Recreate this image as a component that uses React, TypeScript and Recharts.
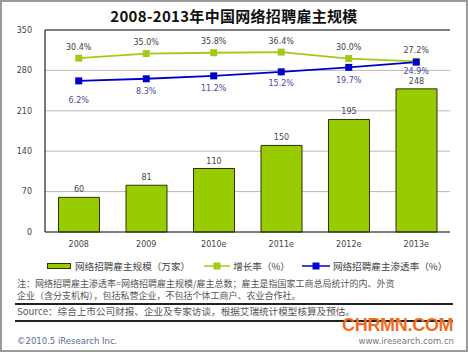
import React from 'react';
import { ComposedChart, Bar, Line, XAxis, YAxis, CartesianGrid, LabelList, ReferenceLine } from 'recharts';

const years = ['2008', '2009', '2010e', '2011e', '2012e', '2013e'];
const employers = [60, 81, 110, 150, 195, 248];
const growthRate = [30.4, 35.0, 35.8, 36.4, 30.0, 27.2];
const penetrationRate = [6.2, 8.3, 11.2, 15.2, 19.7, 24.9];
const leftTicks = [0, 70, 140, 210, 280, 350];

const title = '2008-2013年中国网络招聘雇主规模';
const legendNames = ['网络招聘雇主规模（万家）', '增长率（%）', '网络招聘雇主渗透率（%）'];
const noteLine1 = '注：网络招聘雇主渗透率=网络招聘雇主规模/雇主总数；雇主是指国家工商总局统计的内、外资';
const noteLine2 = '企业（含分支机构），包括私营企业，不包括个体工商户、农业合作社。';
const sourceText = 'Source：综合上市公司财报、企业及专家访谈，根据艾瑞统计模型核算及预估。';

const data = years.map((y, i) => ({
  year: y,
  employers: employers[i],
  growth: growthRate[i],
  penetration: penetrationRate[i],
}));

const FONT = "'DejaVu Sans', 'Noto Sans CJK SC', sans-serif";
const CJK = "'Noto Sans CJK SC', 'DejaVu Sans', sans-serif";
const BAR_GREEN = '#99CC00';
const LINE_GREEN = '#A2C918';
const BLUE = '#0000CC';
const penLabelDy = [20, 13, 13, 12, 13, 9];

const pct = (v: number) => `${v.toFixed(1)}%`;

const SquareDot = (color: string) => (props: any) => {
  const { cx, cy } = props;
  if (cx == null || cy == null) return null;
  return <rect x={cx - 3.5} y={cy - 3.5} width={7} height={7} fill={color} />;
};

const PenLabel = (props: any) => {
  const { x, y, value, index } = props;
  return (
    <text x={x} y={y + penLabelDy[index]} textAnchor="middle" dominantBaseline="central" fontSize={8} fontFamily={FONT} fill="#4a4aa8">
      {pct(value)}
    </text>
  );
};

const GrowthLabel = (props: any) => {
  const { x, y, value } = props;
  return (
    <text x={x} y={y - 11} textAnchor="middle" dominantBaseline="central" fontSize={8} fontFamily={FONT} fill="#444">
      {pct(value)}
    </text>
  );
};

export default function App() {
  return (
    <div style={{ position: 'absolute', left: 0, top: 0, width: 468, height: 352, boxSizing: 'border-box', border: '2px solid #9a9a9a', background: '#fff', overflow: 'hidden' }}>
      <div style={{ position: 'absolute', left: -2, top: 3, width: 468, textAlign: 'center', fontFamily: CJK, fontWeight: 700, fontSize: 15, color: '#111', letterSpacing: 0.3 }}>
        {title}
      </div>
      <div style={{ position: 'absolute', left: -2, top: -2 }}>
        <ComposedChart width={468} height={260} data={data} margin={{ top: 30, right: 18, bottom: 8, left: 10 }} barCategoryGap="20%">
          <CartesianGrid vertical={false} stroke="#b8b8b8" strokeWidth={1} yAxisId="left" />
          <XAxis dataKey="year" axisLine={{ stroke: '#222', strokeWidth: 1.2 }} tickLine={false} tickSize={0} tickMargin={9} height={20}
            tick={{ fontSize: 8, fontFamily: FONT, fill: '#444' }} />
          <YAxis yAxisId="left" orientation="left" domain={[0, 350]} ticks={leftTicks} width={35} axisLine={{ stroke: '#222', strokeWidth: 1.2 }} tickLine={false}
            tickSize={0} tickMargin={13} tick={{ fontSize: 8, fontFamily: FONT, fill: '#444' }} interval={0} />
          <YAxis yAxisId="pen" orientation="right" domain={[-144.7, 57]} width={0} tick={false} tickLine={false} axisLine={{ stroke: '#222', strokeWidth: 1.2 }} allowDataOverflow />
          <YAxis yAxisId="growth" orientation="right" domain={[-143.2, 58.5]} width={0} tick={false} tickLine={false} axisLine={false} allowDataOverflow />
          <ReferenceLine yAxisId="left" y={350} stroke="#222" strokeWidth={1.2} />
          <Bar yAxisId="left" dataKey="employers" fill={BAR_GREEN} stroke="#2b3300" strokeWidth={1} isAnimationActive={false}>
            <LabelList dataKey="employers" position="top" offset={5} fontSize={8} fontFamily={FONT} fill="#444" />
          </Bar>
          <Line yAxisId="growth" dataKey="growth" stroke={LINE_GREEN} strokeWidth={1.8} dot={SquareDot(LINE_GREEN)} activeDot={false} isAnimationActive={false}>
            <LabelList dataKey="growth" content={GrowthLabel} />
          </Line>
          <Line yAxisId="pen" dataKey="penetration" stroke={BLUE} strokeWidth={1.8} dot={SquareDot(BLUE)} activeDot={false} isAnimationActive={false}>
            <LabelList dataKey="penetration" content={PenLabel} />
          </Line>
        </ComposedChart>
      </div>
      {/* legend */}
      <div style={{ position: 'absolute', left: 45, top: 257, height: 14, display: 'flex', alignItems: 'center', fontFamily: CJK, fontSize: 9.6, color: '#444', whiteSpace: 'nowrap' }}>
        <span style={{ display: 'inline-block', width: 22, height: 4, background: BAR_GREEN, border: '1px solid #2b3300', marginRight: 4 }} />
        <span style={{ marginRight: 14 }}>{legendNames[0]}</span>
        <svg width={26} height={8} style={{ marginRight: 3 }}>
          <line x1={0} y1={4} x2={26} y2={4} stroke={LINE_GREEN} strokeWidth={1.5} />
          <rect x={9.5} y={0.5} width={7} height={7} fill={LINE_GREEN} />
        </svg>
        <span style={{ marginRight: 12 }}>{legendNames[1]}</span>
        <svg width={28} height={8} style={{ marginRight: 3 }}>
          <line x1={0} y1={4} x2={28} y2={4} stroke={BLUE} strokeWidth={1.5} />
          <rect x={10.5} y={0.5} width={7} height={7} fill={BLUE} />
        </svg>
        <span>{legendNames[2]}</span>
      </div>
      {/* notes */}
      <div style={{ position: 'absolute', left: 15, top: 275, fontFamily: CJK, fontSize: 9, color: '#555', lineHeight: '13px', whiteSpace: 'nowrap' }}>{noteLine1}</div>
      <div style={{ position: 'absolute', left: 15, top: 287, fontFamily: CJK, fontSize: 9, color: '#555', lineHeight: '13px', whiteSpace: 'nowrap' }}>{noteLine2}</div>
      <div style={{ position: 'absolute', left: 13, top: 301, width: 438, height: 1.5, background: '#222' }} />
      <div style={{ position: 'absolute', left: 15, top: 302, fontFamily: CJK, fontSize: 9.6, color: '#555', whiteSpace: 'nowrap' }}>{sourceText}</div>
      <div style={{ position: 'absolute', left: 13, top: 318, width: 438, height: 1.5, background: '#222' }} />
      <div style={{ position: 'absolute', left: 340, top: 313, fontFamily: "'Liberation Sans', Arial, sans-serif", fontWeight: 700, fontSize: 18, lineHeight: '20px', color: '#F26B1D', letterSpacing: -0.3, whiteSpace: 'nowrap' }}>CHRMN.COM</div>
      <div style={{ position: 'absolute', left: 15, top: 334, fontFamily: FONT, fontSize: 8.5, color: '#5a6a9a', whiteSpace: 'nowrap' }}>©2010.5 iResearch Inc.</div>
      <div style={{ position: 'absolute', right: 12, top: 334, fontFamily: FONT, fontSize: 8.5, color: '#777', whiteSpace: 'nowrap' }}>www.iresearch.com.cn</div>
    </div>
  );
}
